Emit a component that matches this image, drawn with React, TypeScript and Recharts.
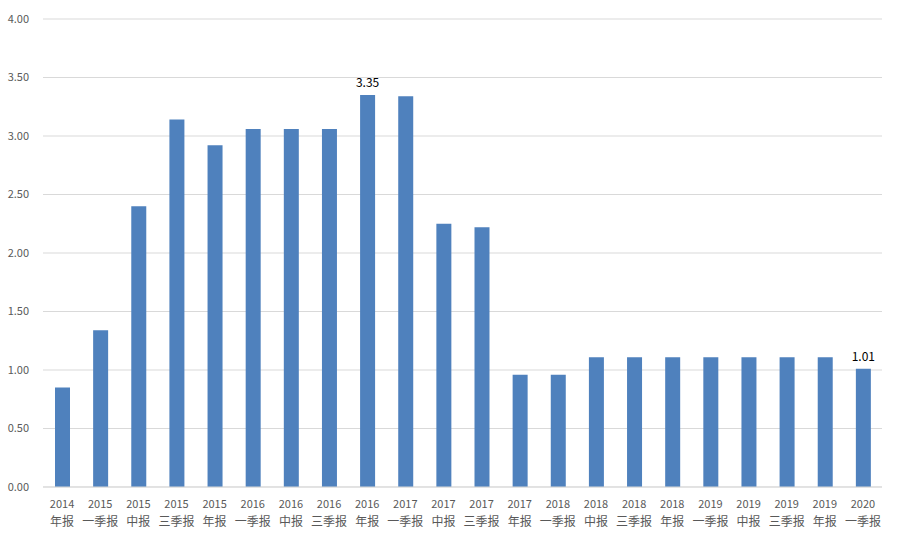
import { BarChart, Bar, XAxis, YAxis, CartesianGrid, LabelList } from 'recharts';

const years = ['2014', '2015', '2015', '2015', '2015', '2016', '2016', '2016', '2016', '2017', '2017', '2017', '2017', '2018', '2018', '2018', '2018', '2019', '2019', '2019', '2019', '2020'];
const periods = ['年报', '一季报', '中报', '三季报', '年报', '一季报', '中报', '三季报', '年报', '一季报', '中报', '三季报', '年报', '一季报', '中报', '三季报', '年报', '一季报', '中报', '三季报', '年报', '一季报'];
const values = [0.85, 1.34, 2.4, 3.14, 2.92, 3.06, 3.06, 3.06, 3.35, 3.34, 2.25, 2.22, 0.96, 0.96, 1.11, 1.11, 1.11, 1.11, 1.11, 1.11, 1.11, 1.01];
// only these bars carry a value label
const labeledIdx = [8, 21];
const yTicks = [0, 0.5, 1, 1.5, 2, 2.5, 3, 3.5, 4];

const data = values.map((v, i) => ({ key: `${years[i]}${periods[i]}`, year: years[i], period: periods[i], value: v }));

const FONT = '"Noto Sans CJK SC", "Noto Sans", sans-serif';

const XTick = ({ x, y, payload }: any) => {
  const d = data[payload.index];
  return (
    <g transform={`translate(${x},${y})`}>
      <text x={0} y={13} textAnchor="middle" fill="#595959" fontSize={11} fontFamily={FONT}>
        {d.year}
      </text>
      <text x={0} y={31} textAnchor="middle" fill="#595959" fontSize={12} fontFamily={FONT}>
        {d.period}
      </text>
    </g>
  );
};

const renderLabel = ({ x, y, width, value, index }: any) => {
  if (!labeledIdx.includes(index)) return null;
  return (
    <text x={x + width / 2} y={y - 8} textAnchor="middle" fill="#000" fontSize={12} fontFamily={FONT}>
      {Number(value).toFixed(2)}
    </text>
  );
};

export default function App() {
  return (
    <div style={{ position: 'absolute', left: 0, top: 0, background: '#fff' }}>
      <BarChart width={902} height={546} data={data} margin={{ top: 19, right: 20, bottom: 0, left: 0 }} barSize={15}>
        <CartesianGrid vertical={false} stroke="#d9d9d9" />
        <XAxis
          dataKey="key"
          height={59}
          interval={0}
          tickLine={false}
          axisLine={{ stroke: '#d9d9d9' }}
          tick={<XTick />}
        />
        <YAxis
          width={43}
          domain={[0, 4]}
          ticks={yTicks}
          tickFormatter={(v: number) => v.toFixed(2)}
          tickLine={false}
          axisLine={false}
          tickMargin={8}
          tick={{ fill: '#595959', fontSize: 11, fontFamily: FONT }}
        />
        <Bar dataKey="value" fill="#4f81bd" isAnimationActive={false}>
          <LabelList dataKey="value" content={renderLabel} />
        </Bar>
      </BarChart>
    </div>
  );
}
